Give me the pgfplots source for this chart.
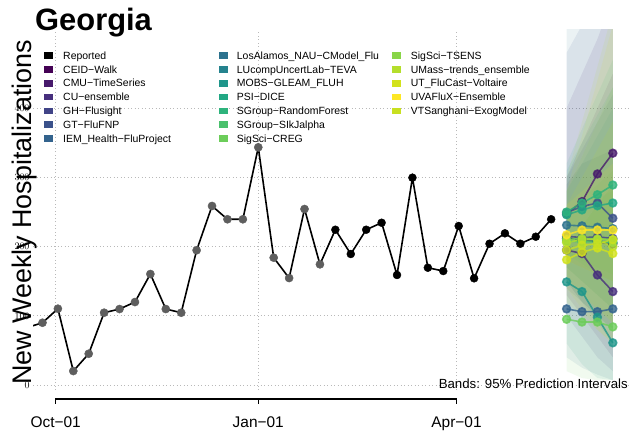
\documentclass[border=0pt]{standalone}
\usepackage{fontspec}
\setmainfont{Liberation Sans}
\usepackage{pgfplots}
\pgfplotsset{compat=1.18}

% model colours (viridis-like)
\definecolor{cCEID}{HTML}{440154}
\definecolor{cCMU}{HTML}{481A6C}
\definecolor{cCU}{HTML}{472F7D}
\definecolor{cGH}{HTML}{414487}
\definecolor{cGT}{HTML}{3B528B}
\definecolor{cIEM}{HTML}{33638D}
\definecolor{cLANL}{HTML}{2C728E}
\definecolor{cLUC}{HTML}{25838E}
\definecolor{cMOBS}{HTML}{1F968B}
\definecolor{cPSI}{HTML}{22A884}
\definecolor{cSGRF}{HTML}{2EB37C}
\definecolor{cSGSI}{HTML}{4AC16D}
\definecolor{cCREG}{HTML}{6CCD5A}
\definecolor{cTSENS}{HTML}{89D548}
\definecolor{cUMASS}{HTML}{B4DE2C}
\definecolor{cUT}{HTML}{D2E21B}
\definecolor{cUVA}{HTML}{FDE725}
\definecolor{cVT}{HTML}{C8E020}
\definecolor{ptgray}{HTML}{5E5E5E}

% 95% band: colour, lower h1..h4, upper h1..h4
\newcommand{\band}[9]{\addplot[draw=none, fill=#1, fill opacity=0.095, forget plot]
  coordinates {(232,#6)(239,#7)(246,#8)(253,#9)(253,#5)(246,#4)(239,#3)(232,#2)} -- cycle;}
% point forecast: colour, h1..h4
\newcommand{\fcst}[5]{\addplot[#1, line width=1.6bp, opacity=0.8, mark=*, mark size=3.9pt, forget plot]
  coordinates {(232,#2)(239,#3)(246,#4)(253,#5)};}

\begin{document}
\begin{tikzpicture}
\begin{axis}[
    at={(33bp,41bp)}, anchor=south west,
    width=597bp, height=360bp, scale only axis,
    xmin=-10.3, xmax=260.8, ymin=-7.2, ymax=513,
    axis line style={draw=none}, major tick length=0pt,
    xtick={0,92,182}, xticklabels={Oct−01,Jan−01,Apr−01},
    ytick={0,100,200,300,400}, yticklabel={},
    xmajorgrids, ymajorgrids,
    grid style={gray!55, line width=0.8bp, dash pattern=on 0.9bp off 2.6bp},
    xticklabel style={font=\fontsize{15.5}{18}\selectfont, anchor=base, yshift=-37bp},
]
% prediction bands
\band{cCEID}{130}{100}{70}{40}{300}{350}{400}{450}
\band{cCMU}{180}{170}{160}{150}{400}{450}{500}{560}
\band{cCU}{100}{70}{40}{20}{290}{320}{330}{340}
\band{cGH}{140}{120}{100}{80}{300}{340}{380}{420}
\band{cGT}{170}{150}{130}{110}{480}{520}{560}{600}
\band{cIEM}{40}{25}{15}{7}{200}{230}{260}{290}
\band{cLANL}{150}{120}{90}{60}{530}{560}{600}{640}
\band{cLUC}{150}{120}{100}{80}{280}{320}{360}{400}
\band{cMOBS}{60}{30}{10}{7}{250}{260}{270}{280}
\band{cPSI}{190}{175}{160}{150}{310}{350}{390}{430}
\band{cSGRF}{190}{180}{170}{160}{320}{370}{420}{470}
\band{cSGSI}{170}{150}{130}{110}{250}{270}{290}{310}
\band{cCREG}{20}{10}{7}{7}{200}{230}{260}{290}
\band{cTSENS}{150}{130}{110}{90}{280}{330}{380}{430}
\band{cUMASS}{140}{110}{80}{60}{300}{380}{460}{540}
\band{cUT}{120}{100}{80}{60}{280}{360}{440}{520}
\band{cUVA}{180}{170}{160}{150}{260}{280}{300}{320}
\band{cVT}{150}{130}{110}{90}{260}{300}{340}{380}

% reported
\addplot[only marks, mark=*, mark size=4.1pt, ptgray] coordinates {
(-13,83)(-6,90.0)(1,110.3)(8,20.2)(15,45.2)(22,104.5)(29,109.8)(36,119.9)
(43,160.4)(50,109.8)(57,104.5)(64,194.7)(71,258.7)(78,239.5)(85,239.5)
(92,343.5)(99,184.0)(106,154.6)(113,254.3)(120,174.4)};
\addplot[black, line width=1.6bp] coordinates {
(-13,83)(-6,90.0)(1,110.3)(8,20.2)(15,45.2)(22,104.5)(29,109.8)(36,119.9)
(43,160.4)(50,109.8)(57,104.5)(64,194.7)(71,258.7)(78,239.5)(85,239.5)
(92,343.5)(99,184.0)(106,154.6)(113,254.3)(120,174.4)(127,224.4)(134,189.3)
(141,224.4)(148,234.5)(155,159.0)(162,299.6)(169,169.5)(176,164.7)(183,229.8)
(190,154.2)(197,204.2)(204,219.2)(211,204.2)(218,214.3)(225,239.5)};
\addplot[only marks, mark=*, mark size=4pt, black] coordinates {
(127,224.4)(134,189.3)(141,224.4)(148,234.5)(155,159.0)(162,299.6)(169,169.5)
(176,164.7)(183,229.8)(190,154.2)(197,204.2)(204,219.2)(211,204.2)(218,214.3)(225,239.5)};

% point forecasts
\fcst{cCEID}{212}{210}{207}{204}
\fcst{cCMU}{247}{265}{305}{335}
\fcst{cCU}{195}{190}{159}{135}
\fcst{cGH}{215}{213}{214}{212}
\fcst{cGT}{249}{258}{263}{241}
\fcst{cIEM}{110}{106}{106}{110}
\fcst{cLANL}{231}{230}{228}{226}
\fcst{cLUC}{212}{210}{208}{206}
\fcst{cMOBS}{149}{135}{98}{61}
\fcst{cPSI}{246}{253}{259}{263}
\fcst{cSGRF}{250}{263}{275}{289}
\fcst{cSGSI}{208}{207}{207}{206}
\fcst{cCREG}{95}{91}{91}{84}
\fcst{cTSENS}{210}{212}{211}{210}
\fcst{cUMASS}{206}{210}{210}{200}
\fcst{cUT}{181}{192}{198}{190}
\fcst{cUVA}{217}{224}{224}{224}
\fcst{cVT}{195}{202}{204}{210}
\end{axis}

\begin{scope}[x=1bp, y=1bp]
% range-frame x axis
\draw[line width=1.4bp] (55.7,32) -- (456.5,32);
\foreach \xx in {55.7,258.3,456.5} \draw[line width=1.2bp] (\xx,32.6) -- (\xx,27.5);
% title and axis label
\node[anchor=base west, inner sep=0, font=\fontsize{31}{35}\selectfont\bfseries] at (35,400) {Georgia};
\node[rotate=90, anchor=base, inner sep=0, font=\fontsize{27}{30}\selectfont] at (31.5,218.5) {New Weekly Hospitalizations};
\node[anchor=base east, inner sep=0, font=\fontsize{13.3}{15}\selectfont] at (628,43) {Bands: 95\% Prediction Intervals};
% legend
\foreach \c/\t [count=\i from 0] in {black/Reported, cCEID/CEID−Walk, cCMU/CMU−TimeSeries,
    cCU/CU−ensemble, cGH/GH−Flusight, cGT/GT−FluFNP, cIEM/IEM\_Health−FluProject} {
  \pgfmathsetmacro\yc{375.7-13.9*\i}
  \fill[\c] (44,\yc-3.4) rectangle (53,\yc+3.4);
  \node[anchor=base west, inner sep=0, font=\fontsize{10.5}{12}\selectfont] at (63,\yc-3.8) {\t};
}
\foreach \c/\t [count=\i from 0] in {cLANL/LosAlamos\_NAU−CModel\_Flu, cLUC/LUcompUncertLab−TEVA,
    cMOBS/MOBS−GLEAM\_FLUH, cPSI/PSI−DICE, cSGRF/SGroup−RandomForest,
    cSGSI/SGroup−SIkJalpha, cCREG/SigSci−CREG} {
  \pgfmathsetmacro\yc{375.7-13.9*\i}
  \fill[\c] (218.5,\yc-3.4) rectangle (227.5,\yc+3.4);
  \node[anchor=base west, inner sep=0, font=\fontsize{10.5}{12}\selectfont] at (236.7,\yc-3.8) {\t};
}
\foreach \c/\t [count=\i from 0] in {cTSENS/SigSci−TSENS, cUMASS/UMass−trends\_ensemble,
    cUT/UT\_FluCast−Voltaire, cUVA/UVAFluX−Ensemble, cVT/VTSanghani−ExogModel} {
  \pgfmathsetmacro\yc{375.7-13.9*\i}
  \fill[\c] (392,\yc-3.4) rectangle (401,\yc+3.4);
  \node[anchor=base west, inner sep=0, font=\fontsize{10.5}{12}\selectfont] at (410.7,\yc-3.8) {\t};
}
\pgfresetboundingbox
\useasboundingbox (0,0) rectangle (632,431);
\end{scope}
\end{tikzpicture}
\end{document}
